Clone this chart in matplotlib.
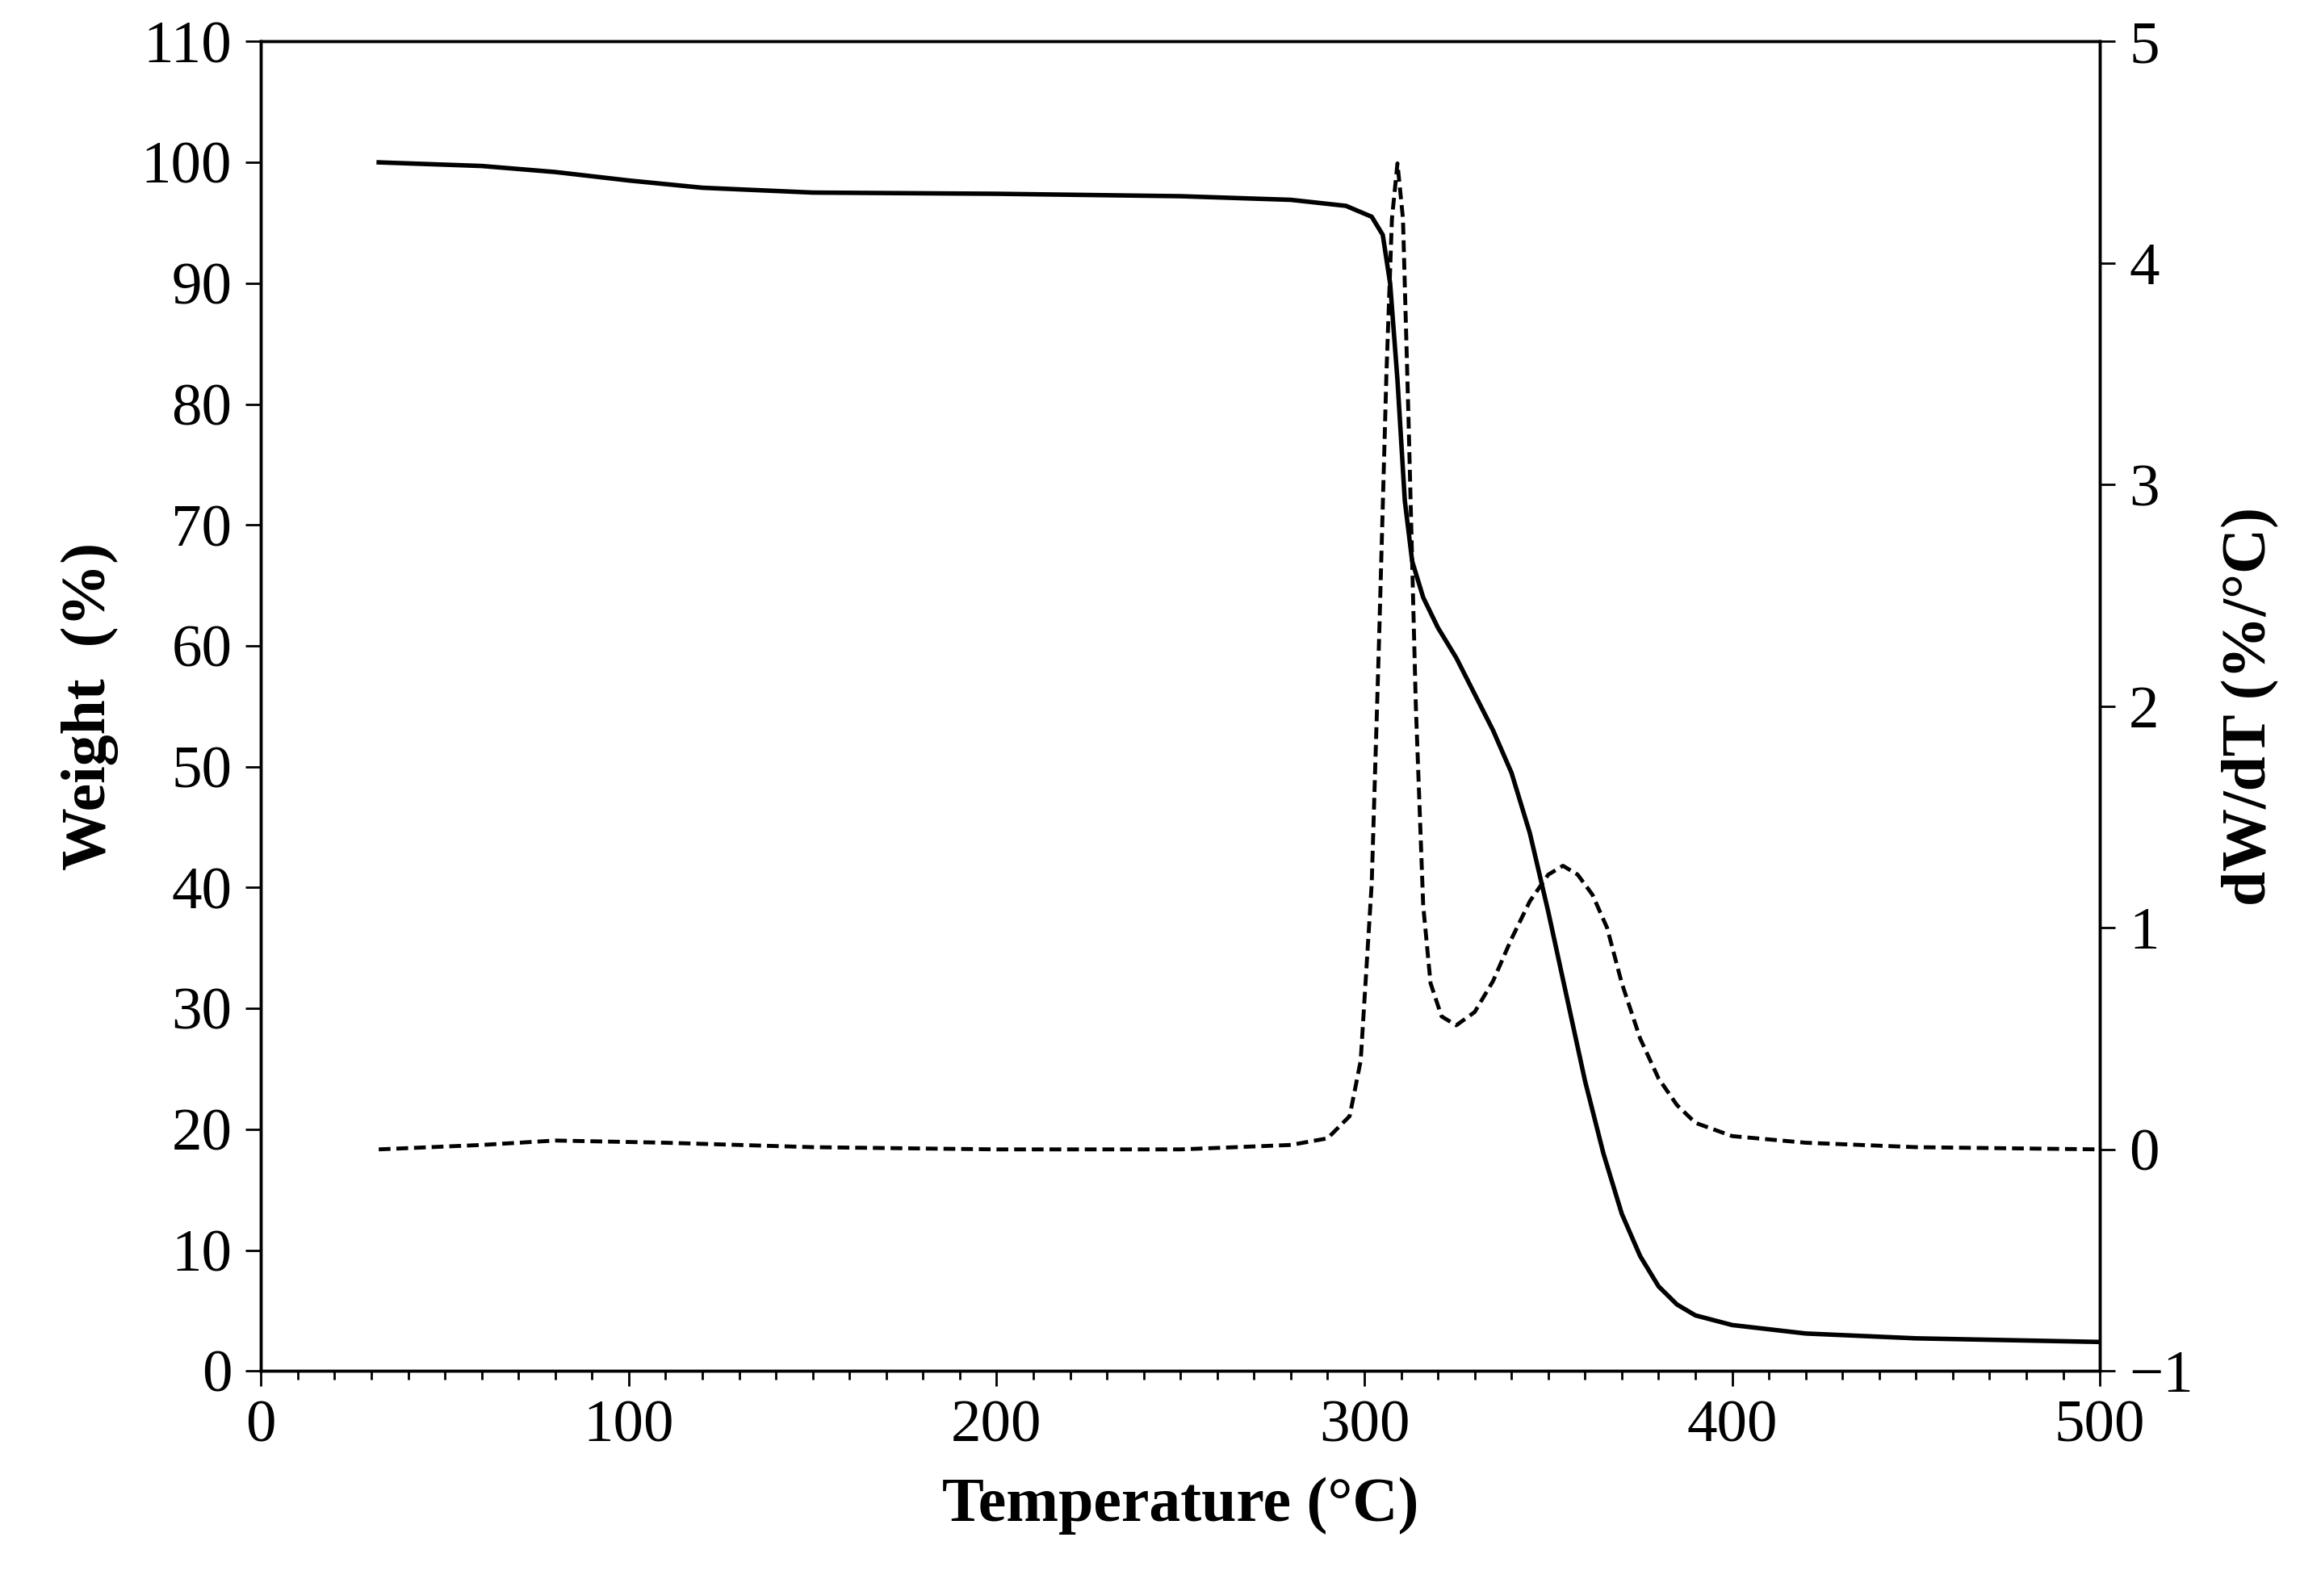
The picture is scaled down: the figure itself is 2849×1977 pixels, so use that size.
import matplotlib
matplotlib.use("Agg")
import matplotlib.pyplot as plt
from matplotlib.ticker import MultipleLocator

temp_w = [32,60,80,100,120,150,200,250,280,295,302,305,307,309,311,313,316,320,325,330,335,340,345,350,355,360,365,370,375,380,385,390,400,420,450,500]
weight = [100,99.7,99.2,98.5,97.9,97.5,97.4,97.2,96.9,96.4,95.5,94,90,82,72,67,64,61.5,59,56,53,49.5,44.5,38,31,24,18,13,9.5,7,5.5,4.6,3.8,3.1,2.7,2.4]
temp_d = [32,60,80,110,150,200,250,280,290,296,299,302,304,306,307.5,309,310.5,312,314,316,318,321,325,330,335,340,345,350,354,358,362,366,370,375,380,385,390,400,420,450,500]
dtg = [0,0.02,0.04,0.03,0.01,0,0,0.02,0.05,0.15,0.4,1.2,2.3,3.5,4.2,4.45,4.2,3.3,2.0,1.1,0.75,0.6,0.56,0.62,0.76,0.95,1.12,1.24,1.28,1.24,1.15,1.0,0.75,0.5,0.32,0.2,0.12,0.06,0.03,0.01,0.0]

plt.rcParams['font.family'] = ['Liberation Serif', 'DejaVu Serif']
plt.rcParams['axes.unicode_minus'] = True
fig = plt.figure(figsize=(28.49, 19.77), dpi=100)
ax = fig.add_axes([0.1135, 0.141, 0.7995, 0.833])
ax2 = ax.twinx()
ax.plot(temp_w, weight, color='black', lw=4)
ax2.plot(temp_d, dtg, color='black', lw=3.5, ls=(0, (3, 1.5)))
ax.set_xlim(0, 500); ax.set_ylim(0, 110)
ax2.set_ylim(-1, 5)
ax.xaxis.set_major_locator(MultipleLocator(100))
ax.xaxis.set_minor_locator(MultipleLocator(10))
ax.yaxis.set_major_locator(MultipleLocator(10))
ax2.yaxis.set_major_locator(MultipleLocator(1))
for a in (ax, ax2):
    a.tick_params(labelsize=54, width=2, length=14, direction='out', pad=12)
    a.tick_params(which='minor', width=2, length=8)
    for s in a.spines.values():
        s.set_linewidth(2.5)
ax.set_xlabel('Temperature (°C)', fontsize=56, fontweight='bold', labelpad=20)
ax.set_ylabel('Weight  (%)', fontsize=56, fontweight='bold', labelpad=20)
ax2.set_ylabel('dW/dT (%/°C)', fontsize=56, fontweight='bold', labelpad=25)
fig.savefig('out.png', dpi=100)
